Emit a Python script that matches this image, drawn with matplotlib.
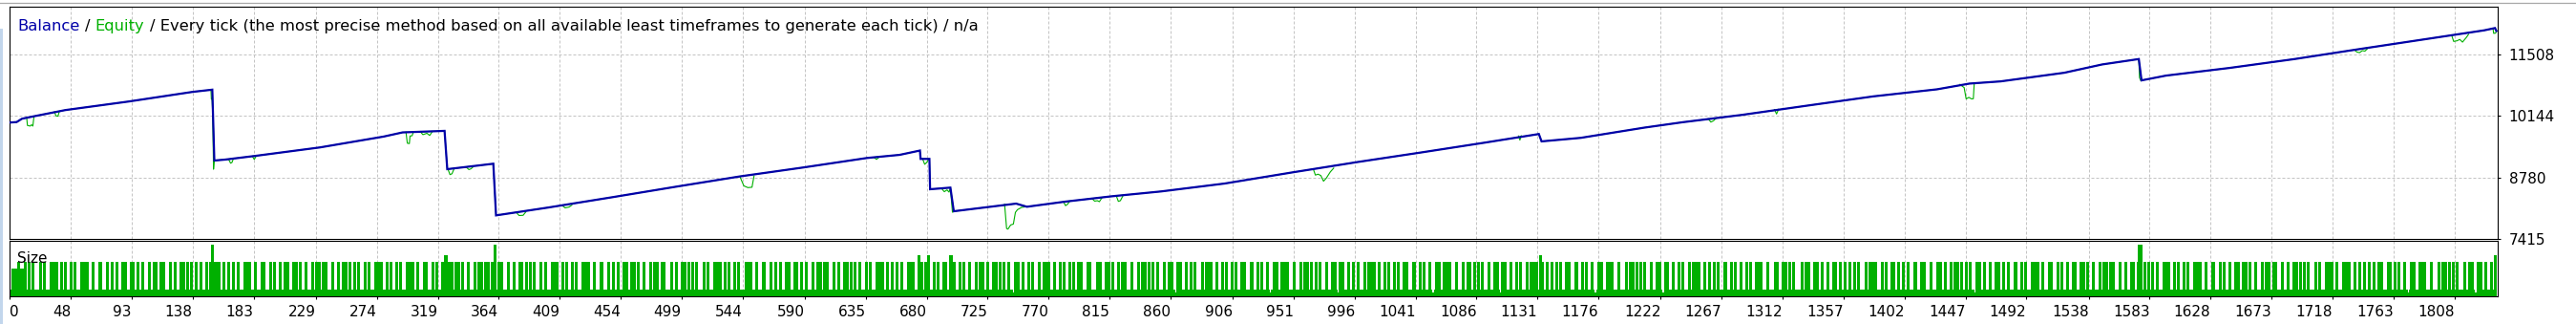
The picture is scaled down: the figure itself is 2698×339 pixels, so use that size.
import numpy as np
import matplotlib
matplotlib.use("Agg")
import matplotlib.pyplot as plt
from matplotlib.patches import Rectangle
from matplotlib.lines import Line2D

# balance curve: trade number -> balance
BAL_TRADE = [3, 8, 12, 20, 44, 91, 138, 152.5, 154, 162, 185, 232, 279, 293, 324, 326,
             350, 360, 362, 401, 448, 495, 542, 589, 636, 660, 675, 675.5, 682, 682.5,
             697.5, 700, 723, 746, 754, 782, 817, 853, 900, 950, 998, 1045, 1092, 1132,
             1134, 1163, 1210, 1238, 1282, 1332, 1379, 1426, 1450, 1473, 1520, 1548,
             1575, 1577, 1595, 1642, 1690, 1736, 1783, 1830, 1838, 1839]
BAL_VALUE = [10000, 10010, 10085, 10134, 10277, 10469, 10682, 10731, 9154, 9175, 9260,
             9446, 9687, 9780, 9814, 8962, 9047, 9083, 7933, 8110, 8338, 8572, 8800, 9000,
             9211, 9280, 9376, 9190, 9190, 8515, 8551, 8025, 8110, 8195, 8125, 8238, 8359,
             8466, 8642, 8890, 9120, 9333, 9552, 9744, 9580, 9659, 9887, 10006, 10170,
             10384, 10582, 10739, 10867, 10916, 11108, 11293, 11413, 10938, 11044, 11215,
             11413, 11626, 11839, 12052, 12103, 12039]

# equity drawdowns below the balance line (trade, equity)
EQUITY_DIPS = [
    [(15.5, 10090), (16, 9935), (18, 9921), (19, 9950), (20, 9921), (20.8, 10130)],
    [(36, 10240), (37, 10150), (38.5, 10140), (39.5, 10240)],
    [(151.5, 10725), (151.8, 10520), (152.3, 10530), (152.8, 10200), (153.4, 8960), (154, 9154)],
    [(164.5, 9182), (166, 9095), (167, 9110), (168, 9188)],
    [(182, 9250), (183.5, 9178), (185, 9258)],
    [(295.5, 9785), (296.5, 9540), (298, 9531), (298.5, 9700), (300, 9705), (301, 9790)],
    [(306, 9800), (308, 9730), (311, 9760), (313, 9712), (315, 9800)],
    [(326.5, 8962), (328, 8840), (329.5, 8860), (331, 8970)],
    [(340, 9005), (342, 8952), (343.5, 8970), (345, 9010)],
    [(377, 7998), (379, 7930), (382, 7935), (384, 8010)],
    [(411, 8150), (413, 8100), (416, 8120), (418, 8162)],
    [(542, 8800), (545, 8590), (548, 8551), (551, 8560), (552.5, 8810)],
    [(641, 9222), (643, 9180), (645, 9235)],
    [(677, 9190), (678.5, 9070), (680, 9110), (681.5, 9190)],
    [(691, 8530), (693, 8460), (695, 8500), (696.5, 8451), (697.5, 8545), (699, 8003), (700, 8025)],
    [(737.5, 8185), (739, 7640), (740, 7628), (742, 7720), (744, 7740), (745.5, 8000),
     (747, 8060), (750, 8110), (753, 8125)],
    [(781, 8236), (782.5, 8150), (784, 8180), (785.5, 8245)],
    [(802, 8310), (804, 8250), (806, 8260), (807.5, 8238), (809.5, 8330)],
    [(820, 8368), (821.5, 8245), (823, 8260), (825, 8375)],
    [(965.5, 8960), (967, 8830), (969, 8850), (971, 8820), (973, 8694), (975, 8760),
     (978, 8900), (980.5, 8985)],
    [(1117, 9700), (1118, 9610), (1119, 9705)],
    [(1257, 10085), (1259, 10010), (1261, 10040), (1263, 10100)],
    [(1306, 10288), (1307.5, 10190), (1309, 10295)],
    [(1443, 10850), (1444.5, 10810), (1446, 10780), (1447.5, 10526), (1449.5, 10560),
     (1451.5, 10526), (1452.8, 10530), (1453.5, 10880)],
    [(1575, 11413), (1575.5, 11000), (1576.5, 10930), (1577, 10938)],
    [(1734, 11620), (1736, 11570), (1738, 11555), (1740, 11600), (1742, 11590), (1744, 11650)],
    [(1806, 11940), (1807.5, 11805), (1810, 11820), (1812, 11850), (1814, 11790),
     (1817, 11900), (1818.5, 11965)],
    [(1836.5, 12095), (1837, 11985), (1838.5, 11990), (1839, 12039)],
]

# lot size of each trade, one code per trade starting at SIZE_FIRST_TRADE
SIZE_FIRST_TRADE = 4
LOT = {"1": 0.01, "2": 0.02, "M": 0.08, "T": 0.10, "H": 0.12, "X": 0.15}
SIZE_ROWS = [
    "2M1M2T2MM1 T21T22T121 2T12T2212T 1T2T212T22 T122T21T21 22T1T2T212 T2212TT212 2T21T122T2 12T2T221T2",
    "T12T212T21 21T22T1T22 T2T2212T12 2T122T2T21 T21T22T121 T122T21TXT 1T2T212T22 T122T21T21 22T1T2T212",
    "T2212TT212 2T21T122T2 12T2T221T2 T12T212T21 21T22T1T22 T2T2212T12 2T122T2T21 T21T22T121 2T12T2212T",
    "1T2T212T22 T122T21T21 22T1T2T212 T2212TT212 2T21T122T2 HH2T1T22T2 T12T212T21 21T22T1T22 T2T21TTX21",
    "T2T2212T12 2T122T2T21 T21T22T121 2T12T2212T 1T2T212T22 T122T21T21 22T1T2T212 T2212TT212 2T21T122T2",
    "12T2T221T2 T12T212T21 21T22T1T22 T2T2212T12 2T122T2T21 T21T22T121 2T12T2212T 1T2T212T22 T122T21T21",
    "22T1T2T212 T2212TT212 2T21T122T2 12T2T221T2 T12T212T21 21T22T1T22 T2T2212T12 2T122T2T21 T21T22T121",
    "2T12T2212T 1T2T212T22 T122T21T21 22T1T2T212 H2T21T2H21 2T21T122T2 T21HH2T122 T12T212T21 21T22T1T22",
    "2T122T2T21 T21T22T121 1T2T212T22 2T12T2212T 22T1T2T212 T122T21T21 2T21T122T2 T2212TT212 12T2T221T2",
    "T12T212T21 T2T2212T12 21T22T1T22 T21T22T121 2T122T2T21 1T2T212T22 2T12T2212T 22T1T2T212 T122T21T21",
    "2T21T122T2 T2212TT212 T12T212T21 12T2T221T2 T2T2212T12 21T22T1T22 T21T22T121 2T122T2T21 1T2T212T22",
    "2T12T2212T 22T1T2T212 T122T21T21 2T21T122T2 T2212TT212 T12T212T21 12T2T221T2 T2T2212T12 21T22T1T22",
    "T21T22T121 2T122T2T21 1T2T212T22 2T12T2212T 22T1T2T21H T122T21T21 2T21T122T2 T2212TT212 T12T212T21",
    "12T2T221T2 T2T2212T12 21T22T1T22 T21T22T121 2T122T2T21 1T2T212T22 2T12T2212T 22T1T2T212 T122T21T21",
    "T2212TT212 T12T212T21 2T21T122T2 T2T2212T12 12T2T221T2 T21T22T121 21T22T1T22 1T2T212T22 2T122T2T21",
    "T122T21T21 2T12T2212T 22T1T2T212 2T21T122T2 T12T212T21 T2212TT212 T2T2212T12 12T2T221T2 21T22T1T22",
    "T21T22T121 1T2T212T22 2T122T2T21 2T12T2212T T122T21T21 22T1T2T212 T2212TT212 2T21T122T2 12T2T221T2",
    "T12T212T21 21T22T1T22 T2T2212T12 2T122T2T21 TXX22T21T2 2T12T2212T 1T2T212T22 T122T21T21 22T1T2T212",
    "T2212TT212 2T21T122T2 12T2T221T2 T12T212T21 21T22T1T22 T2T2212T12 2T122T2T21 T21T22T121 2T12T2212T",
    "1T2T212T22 22T1T2T212 T122T21T21 2T21T122T2 T2212TT212 T12T212T21 12T2T221T2 T2T2212T12 21T22T1T22",
    "T21T22T121 2T122T2T21 1T2T212T22 2T12H",
]

X_TICKS = [0, 48, 93, 138, 183, 229, 274, 319, 364, 409, 454, 499, 544, 590, 635, 680,
           725, 770, 815, 860, 906, 951, 996, 1041, 1086, 1131, 1176, 1222, 1267, 1312,
           1357, 1402, 1447, 1492, 1538, 1583, 1628, 1673, 1718, 1763, 1808]
Y_TICKS = [7415, 8780, 10144, 11508]
Y_TOP = 12572
X_RANGE = (3, 1840)
SIZE_TOP = 0.16

BLUE = "#0000A8"
GREEN = "#00B000"
GRID = "#C4C4C4"
TITLE_PARTS = [("Balance", BLUE), ("/", "black"), ("Equity", GREEN),
               ("/ Every tick (the most precise method based on all available least "
                "timeframes to generate each tick) / n/a", "black")]

plt.rcParams["font.family"] = ["DejaVu Sans"]
FS = 11
TITLE_FS = 11.8
W, H = 2698, 339
fig = plt.figure(figsize=(W / 100, H / 100), dpi=100, facecolor="white")


def px_rect(left, top, right, bottom):
    return [left / W, 1 - bottom / H, (right - left) / W, (bottom - top) / H]


ax = fig.add_axes(px_rect(10.3, 7.3, 2616, 249.7))
ax2 = fig.add_axes(px_rect(10.3, 252.3, 2616, 310), sharex=ax)

# window chrome around the chart
fig.add_artist(Line2D([0, 1], [1 - 2.5 / H, 1 - 2.5 / H], transform=fig.transFigure,
                      color="#A8A8A8", lw=0.9))
fig.add_artist(Rectangle((0, 0), 3 / W, 1 - 30 / H, transform=fig.transFigure,
                         color="#C2D6EC", lw=0))

dash = (0, (3, 2))
for a in (ax, ax2):
    a.set_facecolor("white")
    for sp in a.spines.values():
        sp.set_color("black")
        sp.set_linewidth(0.8)
    a.set_axisbelow(True)

# equity (under) and balance (over)
ax.plot(BAL_TRADE, BAL_VALUE, color=GREEN, lw=0.8, zorder=2)
for dip in EQUITY_DIPS:
    t, v = zip(*dip)
    ax.plot(t, v, color=GREEN, lw=0.8, zorder=2)
ax.plot(BAL_TRADE, BAL_VALUE, color=BLUE, lw=1.6, zorder=3, solid_joinstyle="miter")

ax.set_xlim(*X_RANGE)
ax.set_ylim(Y_TICKS[0], Y_TOP)
ax.set_yticks(Y_TICKS)
ax.set_yticklabels([str(v) for v in Y_TICKS])
ax.yaxis.tick_right()
ax.tick_params(axis="y", length=2.5, width=0.8, pad=6, labelsize=FS, colors="black")
ax.tick_params(axis="x", length=0, labelbottom=False)
ax.grid(True, color=GRID, linestyle=dash, linewidth=0.72)

# lot sizes
codes = "".join(SIZE_ROWS).replace(" ", "")
sizes = [LOT[c] for c in codes]
trades = np.arange(SIZE_FIRST_TRADE, SIZE_FIRST_TRADE + len(sizes))
ax2.vlines(trades, 0, sizes, color=GREEN, lw=0.75, antialiased=False)
ax2.set_ylim(0, SIZE_TOP)
ax2.set_yticks([])
tick_pos = [max(v, X_RANGE[0]) for v in X_TICKS]
ax2.set_xticks(tick_pos)
ax2.set_xticklabels([str(v) for v in X_TICKS])
ax2.tick_params(axis="x", length=2.5, width=0.8, pad=4, labelsize=FS, colors="black")
for i, lab in enumerate(ax2.get_xticklabels()):
    lab.set_ha("left" if i == 0 else "right")
ax2.grid(True, axis="x", color=GRID, linestyle=dash, linewidth=0.72)
ax2.text(0.003, 0.607, "Size", transform=ax2.transAxes, fontsize=FS, va="baseline")

# multi-coloured title
prev = ax.text(0.003, 0.899, TITLE_PARTS[0][0], transform=ax.transAxes, fontsize=TITLE_FS,
               color=TITLE_PARTS[0][1], va="baseline")
for txt, col in TITLE_PARTS[1:]:
    prev = ax.annotate(txt, xy=(1, 0), xycoords=prev, xytext=(3.8, 0),
                       textcoords="offset points", fontsize=TITLE_FS, color=col,
                       va="bottom", ha="left")

fig.savefig("out.png", dpi=100, facecolor="white")
